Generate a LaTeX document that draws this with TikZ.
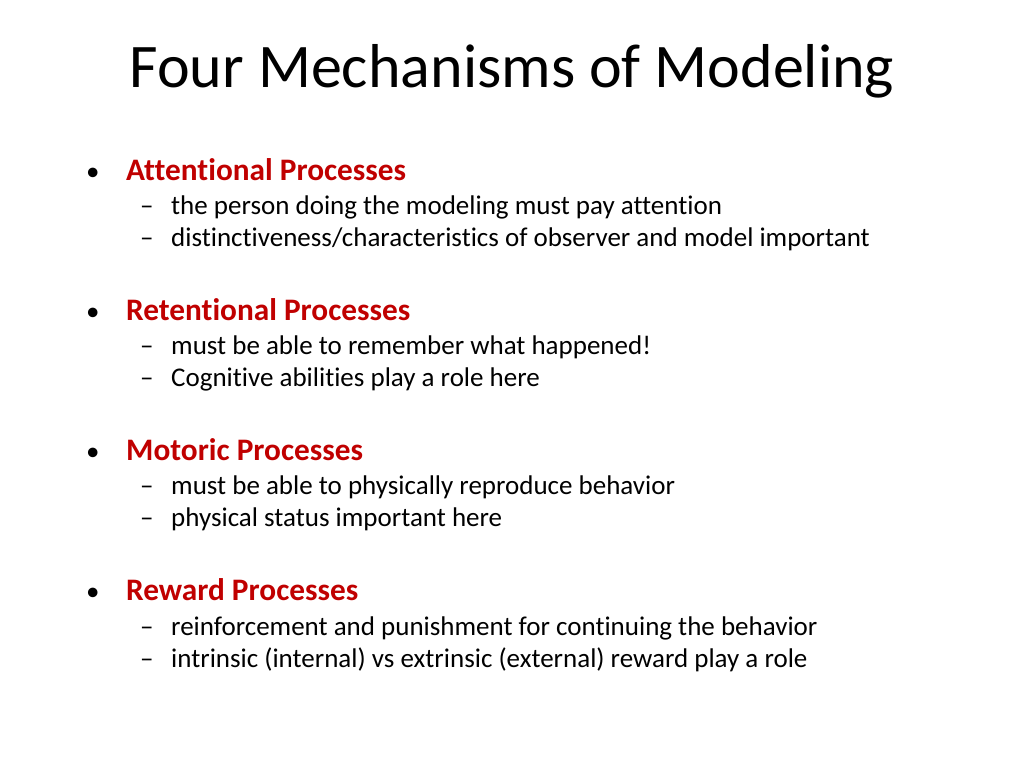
\documentclass[tikz,border=0pt]{standalone}
\usepackage{fontspec}
\setmainfont{Carlito}[Ligatures={NoCommon}]
\definecolor{hred}{RGB}{192,0,0}
\begin{document}
\begin{tikzpicture}[x=1pt,y=1pt,
  title/.style={anchor=base,font=\fontsize{62}{70}\selectfont},
  head/.style={anchor=base west,text=hred,font=\bfseries\fontsize{31.3}{36}\selectfont,inner sep=0},
  sub/.style={anchor=base west,font=\fontsize{27}{30}\selectfont,inner sep=0},
  bmark/.style={anchor=base west,font=\fontsize{27}{30}\selectfont,inner sep=0}]
\useasboundingbox (0,0) rectangle (1024,768);
\node[title] (t) at (512,768-88) {Four Mechanisms of Modeling};
\foreach \i/\h/\a/\b in {0/Attentional Processes/the person doing the modeling must pay attention/{distinctiveness/characteristics of observer and model important},
 1/Retentional Processes/must be able to remember what happened!/Cognitive abilities play a role here,
 2/Motoric Processes/must be able to physically reproduce behavior/physical status important here,
 3/Reward Processes/reinforcement and punishment for continuing the behavior/intrinsic (internal) vs extrinsic (external) reward play a role}{
  \pgfmathsetmacro{\y}{768-181-140*\i}
  \node[bmark] (b\i) at (86,\y) {•};
  \node[head] (h\i) at (126,\y) {\h};
  \node[bmark] (d\i) at (140,\y-34) {–};
  \node[sub] (s\i) at (171,\y-34) {\a};
  \node[bmark] (e\i) at (140,\y-66) {–};
  \node[sub] (r\i) at (171,\y-66) {\b};
}
\end{tikzpicture}
\end{document}
